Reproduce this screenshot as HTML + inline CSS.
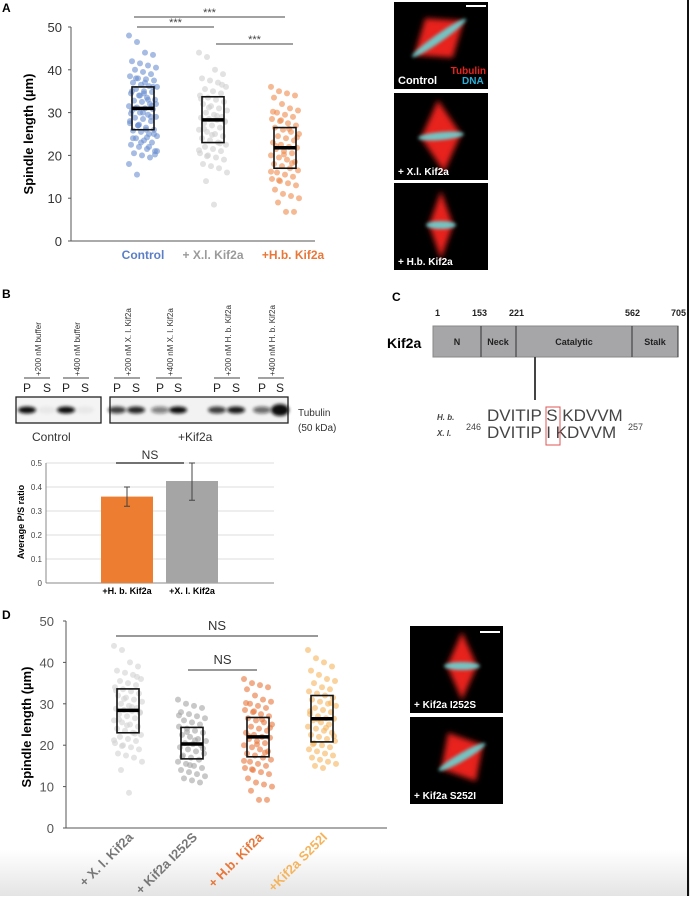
<!DOCTYPE html>
<html><head><meta charset="utf-8"><style>
body{margin:0;background:#fff}
svg text{font-family:"Liberation Sans",Arial,sans-serif}
</style></head><body>
<svg id="fig" width="690" height="896" viewBox="0 0 690 896" xmlns="http://www.w3.org/2000/svg">
<defs>
<linearGradient id="bg" x1="0" y1="0" x2="0" y2="1"><stop offset="0" stop-color="#fff"/><stop offset="1" stop-color="#e4e4e4"/></linearGradient>
<filter id="bl" x="-50%" y="-50%" width="200%" height="200%"><feGaussianBlur stdDeviation="3"/></filter>
<filter id="bl2" x="-50%" y="-50%" width="200%" height="200%"><feGaussianBlur stdDeviation="1.5"/></filter>
</defs>
<rect x="0" y="850" width="690" height="46" fill="url(#bg)"/>
<rect x="687" y="0" width="2" height="896" fill="#111"/>

<text x="2" y="12" font-size="12" font-weight="bold">A</text>
<g id="chartA"></g>
<text x="2" y="298" font-size="12" font-weight="bold">B</text>
<g id="blot"></g>
<g id="chartB"></g>
<g>
<text x="392" y="301" font-size="12" font-weight="bold">C</text>
<text x="387" y="348" font-size="14" font-weight="bold">Kif2a</text>
<rect x="433" y="326" width="245" height="31" fill="#a6a6a8" stroke="#888"/>
<line x1="481" y1="326" x2="481" y2="357" stroke="#333"/>
<line x1="516" y1="326" x2="516" y2="357" stroke="#333"/>
<line x1="632" y1="326" x2="632" y2="357" stroke="#333"/>
<line x1="678" y1="326" x2="678" y2="357" stroke="#333"/>
<g font-size="9" font-weight="bold" fill="#222">
<text x="435" y="316">1</text>
<text x="472" y="316">153</text>
<text x="509" y="316">221</text>
<text x="625" y="316">562</text>
<text x="671" y="316">705</text>
</g>
<g font-size="9" font-weight="bold" fill="#222" text-anchor="middle">
<text x="457" y="345">N</text>
<text x="498" y="345">Neck</text>
<text x="574" y="345">Catalytic</text>
<text x="655" y="345">Stalk</text>
</g>
<line x1="535" y1="357" x2="535" y2="400" stroke="#444" stroke-width="2"/>
<text x="437" y="420" font-size="8" font-weight="bold" font-style="italic" fill="#444">H. b.</text>
<text x="437" y="436" font-size="8" font-weight="bold" font-style="italic" fill="#444">X. l.</text>
<text x="466" y="430" font-size="9" fill="#444">246</text>
<text x="487" y="421" font-size="17" fill="#444">DVITIP S KDVVM</text>
<text x="487" y="438" font-size="17" fill="#444">DVITIP  I  KDVVM</text>
<text x="628" y="430" font-size="9" fill="#444">257</text>
<rect x="546" y="407" width="14" height="38" fill="none" stroke="#e05555"/>
</g>
<text x="2" y="619" font-size="12" font-weight="bold">D</text>
<g id="chartD"></g>
<g id="micro"></g>
</svg>
<script>
const catsA = ["Control", "+ X.l. Kif2a", "+H.b. Kif2a"];
const ctrlVals = [48,46.5,44,43.5,42,41.5,41,40.5,40,39.5,39,38.5,38,37.8,37.5,37,36.5,36.2,36,35.5,35,34.8,34.5,34,33.5,33,32.8,32.5,32,31.5,31.2,31,30.8,30.5,30,29.5,29,28.8,28.5,28,27.5,27,26.5,26,25.8,25.5,25,24.5,24,23.5,23,22.5,22,21.5,21,20.5,20,19.5,18,15.5,37,36,35,34,33,32,31,30,29,28,27,26,25,24,23,22,21,38,34.5,31.6,29.8,27.2,24.2,20.2];
const xlVals = [44,43,40,39,38,37.5,37,36,35.5,35,34.5,34,33.5,33,32.5,32,31.5,31,30.5,30,29.5,29,28.8,28.5,28.3,28,27.5,27,26.5,26,25.5,25,24.5,24,23.5,23,22.5,22,21.5,21,20.5,20,19.5,19,18,17.5,17,16,14,8.5,36.5,33.2,31.2,29.2,27.8,26.2,24.8,22.8,21.2,19.8];
const hbVals = [36,35,34.5,34,33.5,32,31,30.5,30,29.5,29,28.5,28,27.5,27,26.5,26,25.5,25,24.5,24,23.5,23,22.5,22,21.8,21.5,21,20.5,20,19.5,19,18.5,18,17.5,17,16.5,16,15.5,15,14.5,14,13.5,13,12,11,10.5,10,9,6.8,6.8,30.2,28.2,26.2,24.2,22.2,20.2,18.2,16.2,14.2];
const i252sVals = [31,30,29.5,29,28,27.5,27,26.5,26,25.5,25,24.5,24,23.5,23,22.5,22,21.5,21,20.5,20.3,20,19.5,19,18.5,18,17.5,17,16.5,16,15.5,15,14.5,14,13.5,13,12.5,12,11.5,11,27.2,23.2,21.2,19.2,17.2,15.2];
const s252iVals = [43,41,40,39,38,37,36,35.5,35,34,33.5,33,32.5,32,31.5,31,30.5,30,29.5,29,28.5,28,27.5,27,26.5,26.4,26,25.5,25,24.5,24,23.5,23,22.5,22,21.5,21,20.5,20,19.5,19,18.5,18,17.5,17,16.5,16,15.5,15,14.5,30.2,28.2,26.2,24.2,22.2,20.2];
const boxLowA = [26, 23, 17];
const boxHighA = [36, 33.7, 26.5];
const medianA = [31, 28.3, 21.8];
const ticksA = [0,10,20,30,40,50];
const catsD = ["+ X. l. Kif2a", "+ Kif2a I252S", "+ H.b. Kif2a", "+Kif2a S252I"];
const boxLowD = [23, 16.7, 17.2, 20.8];
const boxHighD = [33.6, 24.3, 26.7, 32];
const medianD = [28.4, 20.3, 22, 26.4];
const catsB = ["+H. b. Kif2a", "+X. l. Kif2a"];
const ratioB = [0.36, 0.425];
const errLowB = [0.32, 0.345];
const errHighB = [0.40, 0.50];
const ticksB = [0,0.1,0.2,0.3,0.4,0.5];

const NS = "http://www.w3.org/2000/svg";
function mk(parent, tag, attrs, text){
  const e = document.createElementNS(NS, tag);
  for (const k in attrs) e.setAttribute(k, attrs[k]);
  if (text !== undefined) e.textContent = text;
  parent.appendChild(e); return e;
}
function jit(i){ return ((i*37)%29 - 14) * 1.0; }

function strip(g, y, cx, vals, color, low, high, med, name){
  vals.forEach((v,i)=>{
    const c = mk(g,'circle',{cx:cx+jit(i), cy:y(v), r:3, fill:color, 'fill-opacity':0.6});
    
    
  });
  const b = mk(g,'rect',{x:cx-11, y:y(high), width:22, height:y(low)-y(high), fill:'none', stroke:'#111', 'stroke-width':1.6});
  
  
  const m = mk(g,'line',{x1:cx-11, x2:cx+11, y1:y(med), y2:y(med), stroke:'#000', 'stroke-width':3.5});
  
  
}

(function(){
  const g = document.getElementById('chartA');
  const y0=241, ppu=(241-27)/50, y = v => y0 - v*ppu;
  const xs=[143,213,285];
  mk(g,'line',{x1:71,y1:27,x2:71,y2:241,stroke:'#555'});
  mk(g,'line',{x1:71,y1:241,x2:315,y2:241,stroke:'#555'});
  ticksA.forEach(t=>{
    const tx = mk(g,'text',{x:62,y:y(t)+5,'font-size':13,'text-anchor':'end',fill:'#333'},t);
    
    
    mk(g,'line',{x1:71,x2:68,y1:y(t),y2:y(t),stroke:'#555'});
  });
  const yt = mk(g,'text',{x:0,y:0,'font-size':13,'font-weight':'bold','text-anchor':'middle',transform:'translate(33,134) rotate(-90)'},'Spindle length (µm)');
  
  
  const sets=[ctrlVals,xlVals,hbVals], cols=['#6b8fd0','#cfcfcf','#ee8a4c'], nm=['control','xl-kif2a','hb-kif2a'];
  sets.forEach((s,i)=>strip(g,y,xs[i],s,cols[i],boxLowA[i],boxHighA[i],medianA[i],nm[i]));
  const lab=[[143,'#5b7fc6'],[213,'#9a9a9a'],[293,'#e8773a']];
  lab.forEach((l,i)=>{
    const t = mk(g,'text',{x:l[0],y:259,'font-size':12,'font-weight':'bold','text-anchor':'middle',fill:l[1]},catsA[i]);
    
    
  });
  [[134,285,17],[137,214,27],[216,293,44]].forEach(s=>{
    const l = mk(g,'line',{x1:s[0],x2:s[1],y1:s[2],y2:s[2],stroke:'#444'});
    
    
    mk(g,'text',{x:(s[0]+s[1])/2,y:s[2]-1,'font-size':11,'text-anchor':'middle',fill:'#444'},'***');
  });
})();

(function(){
  const g = document.getElementById('blot');
  mk(g,'rect',{x:16,y:397,width:85,height:26,fill:'#f4f4f4',stroke:'#222','stroke-width':1.3});
  mk(g,'rect',{x:110,y:397,width:178,height:26,fill:'#f2f2f2',stroke:'#222','stroke-width':1.3});
  const lanes=[[27,'P',1],[47,'S',0.05],[66,'P',1],[85,'S',0.05],[117,'P',0.8],[136,'S',0.9],[160,'P',0.5],[178,'S',1],[217,'P',0.8],[236,'S',0.95],[262,'P',0.6],[280,'S',1]];
  lanes.forEach(l=>{
    mk(g,'text',{x:l[0],y:392,'font-size':12,'text-anchor':'middle',fill:'#222'},l[1]);
    const b = mk(g,'ellipse',{cx:l[0],cy:410,rx:9,ry:l[1]==='S'&&l[2]>0.9&&l[0]>270?6:3.5,fill:'#111','fill-opacity':l[2],filter:'url(#bl2)'});
    
    
  });
  const labs=[[37,'+200 nM buffer'],[76,'+400 nM buffer'],[127,'+200 nM X. l. Kif2a'],[169,'+400 nM X. l. Kif2a'],[227,'+200 nM H. b. Kif2a'],[271,'+400 nM H. b. Kif2a']];
  labs.forEach(l=>{
    mk(g,'line',{x1:l[0]-13,x2:l[0]+13,y1:378,y2:378,stroke:'#444'});
    const t = mk(g,'text',{x:0,y:0,'font-size':8,fill:'#333',transform:`translate(${l[0]+4},376) rotate(-90)`},l[1]);
    
    
  });
  mk(g,'text',{x:298,y:416,'font-size':10,fill:'#333'},'Tubulin');
  mk(g,'text',{x:298,y:431,'font-size':10,fill:'#333'},'(50 kDa)');
  mk(g,'text',{x:32,y:441,'font-size':12,fill:'#333'},'Control');
  mk(g,'text',{x:178,y:441,'font-size':12,fill:'#333'},'+Kif2a');
})();

(function(){
  const g = document.getElementById('chartB');
  const y0=583, ppu=(583-463)/0.5, y=v=>y0-v*ppu;
  ticksB.forEach(t=>{
    mk(g,'line',{x1:46,x2:274,y1:y(t),y2:y(t),stroke:t===0?'#888':'#ddd'});
    const tx = mk(g,'text',{x:42,y:y(t)+3,'font-size':8,'text-anchor':'end',fill:'#444'},t===0?'0':t.toFixed(1));
    
    
  });
  mk(g,'line',{x1:46,x2:46,y1:463,y2:583,stroke:'#888'});
  const yt = mk(g,'text',{x:0,y:0,'font-size':9,'font-weight':'bold','text-anchor':'middle',transform:'translate(24,522) rotate(-90)'},'Average P/S ratio');
  
  
  const xs=[127,192], cols=['#ed7d31','#a5a5a5'];
  ratioB.forEach((v,i)=>{
    const r = mk(g,'rect',{x:xs[i]-26,y:y(v),width:52,height:y0-y(v),fill:cols[i]});
    
    
    const e = mk(g,'path',{d:`M${xs[i]},${y(errLowB[i])}V${y(errHighB[i])}M${xs[i]-3},${y(errLowB[i])}h6M${xs[i]-3},${y(errHighB[i])}h6`,stroke:'#444',fill:'none'});
    
    
    const t = mk(g,'text',{x:xs[i],y:594,'font-size':9,'font-weight':'bold','text-anchor':'middle'},catsB[i]);
    
    
  });
  mk(g,'line',{x1:116,x2:184,y1:463,y2:463,stroke:'#444','stroke-width':1.5});
  mk(g,'text',{x:150,y:459,'font-size':12,'text-anchor':'middle',fill:'#333'},'NS');
})();

(function(){
  const g = document.getElementById('chartD');
  const y0=828, ppu=(828-621)/50, y=v=>y0-v*ppu;
  const xs=[128,192,258,322];
  mk(g,'line',{x1:66,y1:621,x2:66,y2:828,stroke:'#555'});
  mk(g,'line',{x1:66,y1:828,x2:387,y2:828,stroke:'#555'});
  ticksA.forEach(t=>{
    const tx = mk(g,'text',{x:54,y:y(t)+5,'font-size':13,'text-anchor':'end',fill:'#555'},t);
    
    
    mk(g,'line',{x1:66,x2:63,y1:y(t),y2:y(t),stroke:'#555'});
  });
  const yt = mk(g,'text',{x:0,y:0,'font-size':13,'font-weight':'bold','text-anchor':'middle',transform:'translate(31,727) rotate(-90)'},'Spindle length (µm)');
  
  
  const sets=[xlVals,i252sVals,hbVals,s252iVals], cols=['#d2d2d2','#a3a3a3','#e8773a','#f5b45c'], nm=['xl-kif2a','i252s','hb-kif2a','s252i'];
  const lc=['#777','#777','#e8773a','#f5b45c'];
  sets.forEach((s,i)=>{
    strip(g,y,xs[i],s,cols[i],boxLowD[i],boxHighD[i],medianD[i],nm[i]);
    const t = mk(g,'text',{x:0,y:0,'font-size':13,'font-weight':'bold','text-anchor':'end',fill:lc[i],transform:`translate(${xs[i]+6},838) rotate(-45)`},catsD[i]);
    
    
  });
  [[116,318,636],[188,257,670]].forEach(s=>{
    const l = mk(g,'line',{x1:s[0],x2:s[1],y1:s[2],y2:s[2],stroke:'#333'});
    
    
    mk(g,'text',{x:(s[0]+s[1])/2,y:s[2]-6,'font-size':13,'text-anchor':'middle',fill:'#333'},'NS');
  });
})();

(function(){
  const g = document.getElementById('micro');
  const imgs=[
    [394,2,94,87,'Control',45,36,30,'rotate(-35)','ctrl',18],
    [394,93,94,87,'+ X.l. Kif2a',47,43,20,'rotate(-5)','xl',30],
    [394,183,94,87,'+ H.b. Kif2a',47,42,12,'rotate(0)','hb',28],
    [410,626,93,87,'+ Kif2a I252S',52,40,15,'rotate(0)','i252s',28],
    [410,717,93,87,'+ Kif2a S252I',52,40,24,'rotate(-30)','s252i',22]
  ];
  imgs.forEach(m=>{
    const [x,yy,w,h,lab,cx,cy,rx,rot,nm,ry]=m;
    const r = mk(g,'rect',{x:x,y:yy,width:w,height:h,fill:'#000'});
    
    
    const gg = mk(g,'g',{transform:`translate(${x+cx},${yy+cy}) ${rot}`});
    mk(gg,'path',{d:`M0,${-ry-6} L${rx},0 L0,${ry+6} L${-rx},0 Z`,fill:'#e8231d',filter:'url(#bl)'});
    mk(gg,'ellipse',{cx:0,cy:0,rx:rx+3,ry:4,fill:'#5fe0e0','fill-opacity':0.85,filter:'url(#bl2)'});
    const t = mk(g,'text',{x:x+4,y:yy+h-5,'font-size':nm==='ctrl'?11:10,'font-weight':'bold',fill:'#fff'},lab);
    
    
  });
  mk(g,'line',{x1:466,x2:486,y1:6,y2:6,stroke:'#fff','stroke-width':2});
  mk(g,'line',{x1:480,x2:500,y1:632,y2:632,stroke:'#fff','stroke-width':2});
  mk(g,'text',{x:486,y:74,'font-size':10,'font-weight':'bold','text-anchor':'end',fill:'#e8231d'},'Tubulin');
  mk(g,'text',{x:462,y:84,'font-size':10,'font-weight':'bold',fill:'#2ab0d8'},'DNA');
})();
</script>
</body></html>
